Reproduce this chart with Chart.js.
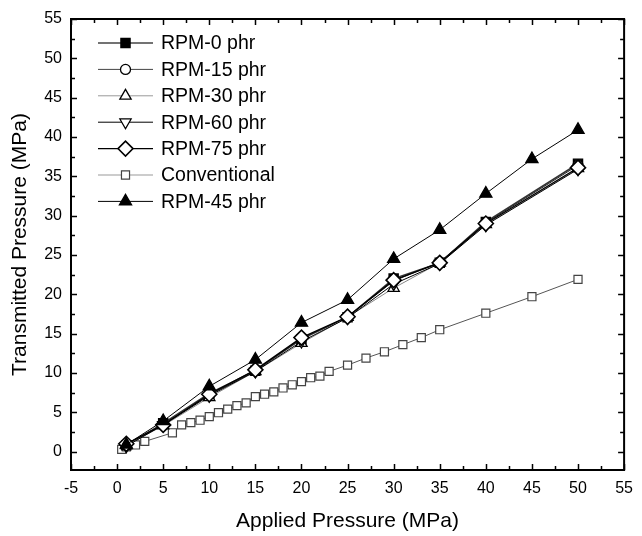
<!DOCTYPE html>
<html>
<head>
<meta charset="utf-8">
<script src="https://cdn.jsdelivr.net/npm/chart.js@4/dist/chart.umd.min.js"></script>
<style>
  html, body { margin: 0; padding: 0; background: #fff; }
  #wrap { width: 642px; height: 536px; position: relative; }
</style>
</head>
<body>
<div id="wrap"><canvas id="chart"></canvas></div>
<script>
/* Transmitted vs applied pressure */
const rpmX = [1, 5, 10, 15, 20, 25, 30, 35, 40, 50];
const rpm0 = [0.8, 3.6, 7.4, 10.3, 14.3, 17.1, 22.0, 24.0, 29.2, 36.6];
const rpm15 = [0.9, 3.5, 7.2, 10.3, 14.4, 17.1, 21.7, 24.1, 29.1, 36.4];
const rpm30 = [0.8, 3.3, 6.9, 10.2, 13.8, 17.1, 20.8, 24.0, 28.9, 36.0];
const rpm60 = [0.7, 3.4, 7.1, 10.2, 14.0, 17.0, 21.3, 23.9, 28.8, 35.9];
const rpm75 = [1.0, 3.4, 7.3, 10.4, 14.5, 17.15, 21.8, 24.0, 29.0, 36.1];

const rpm45X = [1, 5, 10, 15, 20, 25, 30, 35, 40, 45, 50];
const rpm45 = [0.9, 3.9, 8.3, 11.7, 16.4, 19.3, 24.5, 28.2, 32.8, 37.2, 40.9];

const convX = [0.5, 1, 2, 3, 6, 7, 8, 9, 10, 11, 12, 13, 14, 15, 16, 17, 18, 19, 20, 21, 22, 23, 25, 27, 29, 31, 33, 35, 40, 45, 50];
const conv = [0.3, 0.6, 0.85, 1.3, 2.4, 3.4, 3.7, 4.0, 4.45, 4.95, 5.4, 5.85, 6.2, 7.0, 7.3, 7.6, 8.1, 8.5, 8.9, 9.4, 9.6, 10.2, 11.0, 11.9, 12.7, 13.6, 14.5, 15.5, 17.6, 19.7, 21.9];

const xTickValues = [-5, 0, 5, 10, 15, 20, 25, 30, 35, 40, 45, 50, 55];
const yTickValues = [0, 5, 10, 15, 20, 25, 30, 35, 40, 45, 50, 55];

const xMin = -5, xMax = 55, yMin = -2.33, yMax = 55;
const majorStep = 5, minorStep = 2.5;

const FONT = '"Liberation Sans", Arial, Helvetica, sans-serif';
const pts = (xs, ys) => xs.map((x, i) => ({ x, y: ys[i] }));

function series(label, xs, ys, o) {
  return {
    label, data: pts(xs, ys),
    borderColor: o.line, borderWidth: o.lw || 1,
    pointStyle: o.style, pointRotation: o.rot || 0, pointRadius: o.r,
    pointBackgroundColor: o.fill, pointBorderColor: o.edge || '#000',
    pointBorderWidth: o.pw || 1.3, pointHoverRadius: o.r,
    order: o.order, tension: 0, fill: false,
  };
}

const datasets = [
  series('RPM-0 phr', rpmX, rpm0, { line: '#333', lw: 1.5, style: 'rect', r: 6.5, fill: '#000', order: 5 }),
  series('RPM-15 phr', rpmX, rpm15, { line: '#222', style: 'circle', r: 5, fill: '#fff', order: 4 }),
  series('RPM-30 phr', rpmX, rpm30, { line: '#888', style: 'triangle', r: 6.5, fill: '#fff', order: 3 }),
  series('RPM-60 phr', rpmX, rpm60, { line: '#000', style: 'triangle', rot: 180, r: 6.5, fill: '#fff', order: 2 }),
  series('RPM-75 phr', rpmX, rpm75, { line: '#000', lw: 1.3, style: 'rectRot', r: 7.5, fill: '#fff', pw: 1.6, order: 1 }),
  series('Conventional', convX, conv, { line: '#555', style: 'rect', r: 5.7, fill: '#fff', edge: '#444', pw: 1.2, order: 6 }),
  series('RPM-45 phr', rpm45X, rpm45, { line: '#000', style: 'triangle', r: 7, fill: '#000', order: 0 }),
];
const legendLine = ['#444', '#444', '#999', '#000', '#000', '#999', '#000'];

// frame with inward major/minor ticks on all four sides
const frameTicks = {
  id: 'frameTicks',
  afterDraw(chart) {
    const { ctx, chartArea: a, scales: { x, y } } = chart;
    ctx.save();
    ctx.strokeStyle = '#000';
    ctx.lineWidth = 1.5;
    ctx.beginPath();
    for (let v = Math.ceil(x.min / minorStep) * minorStep; v <= x.max + 1e-9; v += minorStep) {
      const p = Math.round(x.getPixelForValue(v)) + 0.5;
      const len = Math.abs(v / majorStep - Math.round(v / majorStep)) < 1e-6 ? 6 : 4;
      ctx.moveTo(p, a.bottom); ctx.lineTo(p, a.bottom - len);
      ctx.moveTo(p, a.top); ctx.lineTo(p, a.top + len);
    }
    for (let v = Math.ceil(y.min / minorStep) * minorStep; v <= y.max + 1e-9; v += minorStep) {
      const p = Math.round(y.getPixelForValue(v)) + 0.5;
      const len = Math.abs(v / majorStep - Math.round(v / majorStep)) < 1e-6 ? 6 : 4;
      ctx.moveTo(a.left, p); ctx.lineTo(a.left + len, p);
      ctx.moveTo(a.right, p); ctx.lineTo(a.right - len, p);
    }
    ctx.stroke();
    ctx.lineWidth = 2;
    ctx.strokeRect(a.left, a.top, a.right - a.left, a.bottom - a.top);
    ctx.restore();
  }
};

// legend inside the plot: line + marker + label
const innerLegend = {
  id: 'innerLegend',
  afterDraw(chart) {
    const { ctx, chartArea: a } = chart;
    const x0 = a.left + 27, x1 = x0 + 55, xm = (x0 + x1) / 2;
    chart.data.datasets.forEach((ds, i) => {
      const yy = a.top + 24 + i * 26.4;
      ctx.save();
      ctx.strokeStyle = legendLine[i];
      ctx.lineWidth = ds.borderWidth;
      ctx.beginPath(); ctx.moveTo(x0, yy); ctx.lineTo(x1, yy); ctx.stroke();
      ctx.fillStyle = ds.pointBackgroundColor;
      ctx.strokeStyle = ds.pointBorderColor;
      ctx.lineWidth = ds.pointBorderWidth;
      Chart.helpers.drawPoint(ctx, {
        pointStyle: ds.pointStyle, rotation: ds.pointRotation,
        radius: ds.pointRadius, borderWidth: ds.pointBorderWidth
      }, xm, yy);
      ctx.fillStyle = '#000';
      ctx.font = '19.5px ' + FONT;
      ctx.textBaseline = 'middle';
      ctx.textAlign = 'left';
      ctx.fillText(ds.label, x1 + 8, yy + 1);
      ctx.restore();
    });
  }
};

const fixedTicks = (vals) => (s) => { s.ticks = vals.map((v) => ({ value: v })); };

new Chart(document.getElementById('chart'), {
  type: 'line',
  data: { datasets },
  plugins: [frameTicks, innerLegend],
  options: {
    responsive: true,
    maintainAspectRatio: false,
    animation: false,
    layout: { padding: { top: 19, right: 10, left: 0, bottom: 0 } },
    plugins: { legend: { display: false }, tooltip: { enabled: false } },
    scales: {
      x: {
        type: 'linear', min: xMin, max: xMax,
        grid: { display: false, drawTicks: false }, border: { display: false },
        ticks: { padding: 9, color: '#000', maxRotation: 0, autoSkip: false, font: { family: FONT, size: 16 } },
        afterBuildTicks: fixedTicks(xTickValues),
        title: { display: true, text: 'Applied Pressure (MPa)', color: '#000', padding: { top: 0, bottom: 2 }, font: { family: FONT, size: 21 } },
        afterFit: (s) => { s.height = 66; },
      },
      y: {
        type: 'linear', min: yMin, max: yMax,
        grid: { display: false, drawTicks: false }, border: { display: false },
        ticks: { padding: 9, color: '#000', autoSkip: false, font: { family: FONT, size: 16 } },
        afterBuildTicks: fixedTicks(yTickValues),
        title: { display: true, text: 'Transmitted Pressure (MPa)', color: '#000', padding: { top: 8, bottom: 0 }, font: { family: FONT, size: 21 } },
        afterFit: (s) => { s.width = 71; },
      },
    },
  },
});
</script>
</body>
</html>
